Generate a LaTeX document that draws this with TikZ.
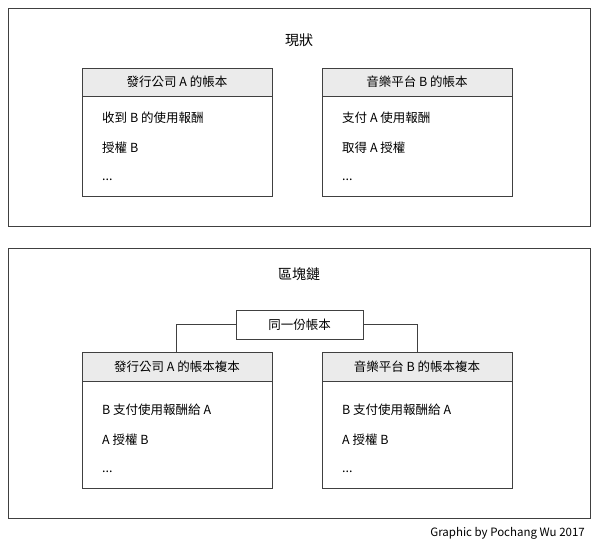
\documentclass[tikz,border=0pt]{standalone}
\usepackage{fontspec}
\setmainfont{Noto Sans CJK TC}
\usetikzlibrary{positioning}

\begin{document}
\begin{tikzpicture}[
  x=1pt,y=-1pt,
  outerbox/.style={draw=black!75,line width=0.6pt},
  headbox/.style={draw=black!75,fill=black!8,line width=0.6pt},
  bodybox/.style={draw=black!75,fill=white,line width=0.6pt},
  ]
  \tikzset{%
    entry/.style={
      anchor=west,
      font=\fontsize{12.5}{14}\selectfont,
      inner sep=0pt,
    },
    title/.style={
      font=\fontsize{14}{16}\selectfont,
    },
  }
  \useasboundingbox (0,0) rectangle (600,548);
  %Frames
  \draw[outerbox] (8,8) rectangle (590,226);
  \draw[outerbox] (8,248) rectangle (590,518);
  \node[title](now) at (299,40){現狀};
  \node[title](chain) at (299,274){區塊鏈};
  %Current ledgers
  \draw[bodybox] (82,68) rectangle (272,196);
  \draw[headbox] (82,68) rectangle (272,96);
  \node[entry](ha) at (177,82)[anchor=center]{發行公司 A 的帳本};
  \node[entry](a1) at (102,118){收到 B 的使用報酬};
  \node[entry](a2) at (102,148){授權 B};
  \node[entry](a3) at (102,180){...};
  \draw[bodybox] (322,68) rectangle (512,196);
  \draw[headbox] (322,68) rectangle (512,96);
  \node[entry](hb) at (417,82)[anchor=center]{音樂平台 B 的帳本};
  \node[entry](b1) at (342,118){支付 A 使用報酬};
  \node[entry](b2) at (342,148){取得 A 授權};
  \node[entry](b3) at (342,180){...};
  %Shared ledger
  \node[draw=black!75,line width=0.6pt,minimum width=127pt,minimum height=29pt,
    font=\fontsize{12.5}{14}\selectfont](shared) at (299.5,324.5){同一份帳本};
  \coordinate(ca) at (176,352);
  \coordinate(cb) at (417,352);
  \draw[black!75,line width=0.6pt] (shared.west) -| (ca);
  \draw[black!75,line width=0.6pt] (shared.east) -| (cb);
  %Ledger copies
  \draw[bodybox] (82,352) rectangle (272,488);
  \draw[headbox] (82,352) rectangle (272,381);
  \node[entry](hc) at (177,366.5)[anchor=center]{發行公司 A 的帳本複本};
  \node[entry](c1) at (102,410){B 支付使用報酬給 A};
  \node[entry](c2) at (102,440){A 授權 B};
  \node[entry](c3) at (102,472){...};
  \draw[bodybox] (322,352) rectangle (512,488);
  \draw[headbox] (322,352) rectangle (512,381);
  \node[entry](hd) at (417,366.5)[anchor=center]{音樂平台 B 的帳本複本};
  \node[entry](d1) at (342,410){B 支付使用報酬給 A};
  \node[entry](d2) at (342,440){A 授權 B};
  \node[entry](d3) at (342,472){...};
  %Credit
  \node[entry,anchor=east,font=\fontsize{11.5}{13}\selectfont](credit) at (585,533){Graphic by Pochang Wu 2017};
\end{tikzpicture}
\end{document}
